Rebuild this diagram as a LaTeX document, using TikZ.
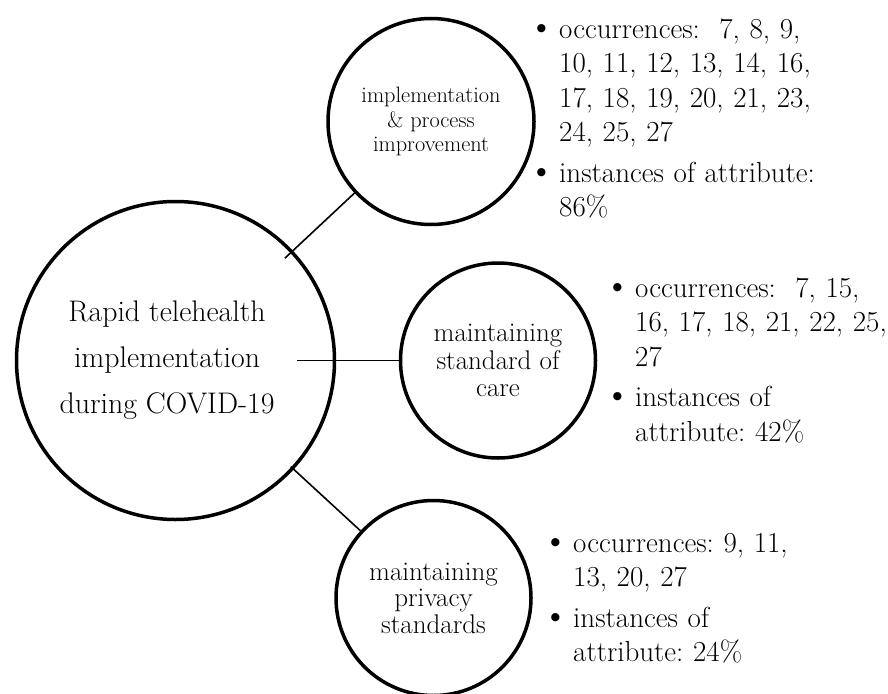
\documentclass[tikz,border=0pt]{standalone}
\usepackage{tikz}
\usetikzlibrary{positioning}
\newcommand{\attrbullet}{\leavevmode\llap{{\fontsize{37}{0}\selectfont\textbullet}\hspace{4pt}}}

\begin{document}
\begin{tikzpicture}[x=1pt,y=-1pt,
    theme/.style={draw,circle,line width=3.5pt,inner sep=0pt,align=center},
    facts/.style={anchor=base west,inner sep=0pt,text width=320pt,align=left,
      font=\fontsize{29}{34.5}\selectfont\frenchspacing},
    link/.style={line width=1.6pt}]
  \useasboundingbox (0,0) rectangle (888,693);
  % central theme
  \node[theme,minimum size=318pt] (core) at (175.5,360.5) {};
  \node[align=center,font=\fontsize{29.8}{46}\selectfont] (core-text)
    at (167,360.5) {Rapid telehealth\\implementation\\during COVID-19};
  % attribute circles
  \node[theme,minimum size=206pt,font=\fontsize{22.3}{24.5}\selectfont] (impl)
    at (431,121.5) {implementation\\\& process\\improvement};
  \node[theme,minimum size=195pt,font=\fontsize{27}{27.5}\selectfont] (care)
    at (498,360.5) {maintaining\\standard of\\care};
  \node[theme,minimum size=195pt,font=\fontsize{27}{26.5}\selectfont] (priv)
    at (433.5,598) {maintaining\\privacy\\standards};
  % links
  \draw[link,shorten <=-11pt] (core) -- (impl);
  \draw[link,shorten <=-39pt] (core) -- (care);
  \draw[link,shorten <=-4pt] (core) -- (priv);
  % occurrence lists
  \node[facts] (impl-facts) at (559,38)
    {\attrbullet occurrences:~ 7, 8, 9,\\10, 11, 12, 13, 14, 16,\\17, 18, 19, 20, 21, 23,\\24, 25, 27\\[6pt]
     \attrbullet instances of attribute:\\86\%};
  \node[facts] (care-facts) at (635,297)
    {\attrbullet occurrences:~ 7, 15,\\16, 17, 18, 21, 22, 25,\\27\\[6pt]
     \attrbullet instances of\\attribute: 42\%};
  \node[facts] (priv-facts) at (573,552)
    {\attrbullet occurrences: 9, 11,\\13, 20, 27\\[6pt]
     \attrbullet instances of\\attribute: 24\%};
\end{tikzpicture}
\end{document}
